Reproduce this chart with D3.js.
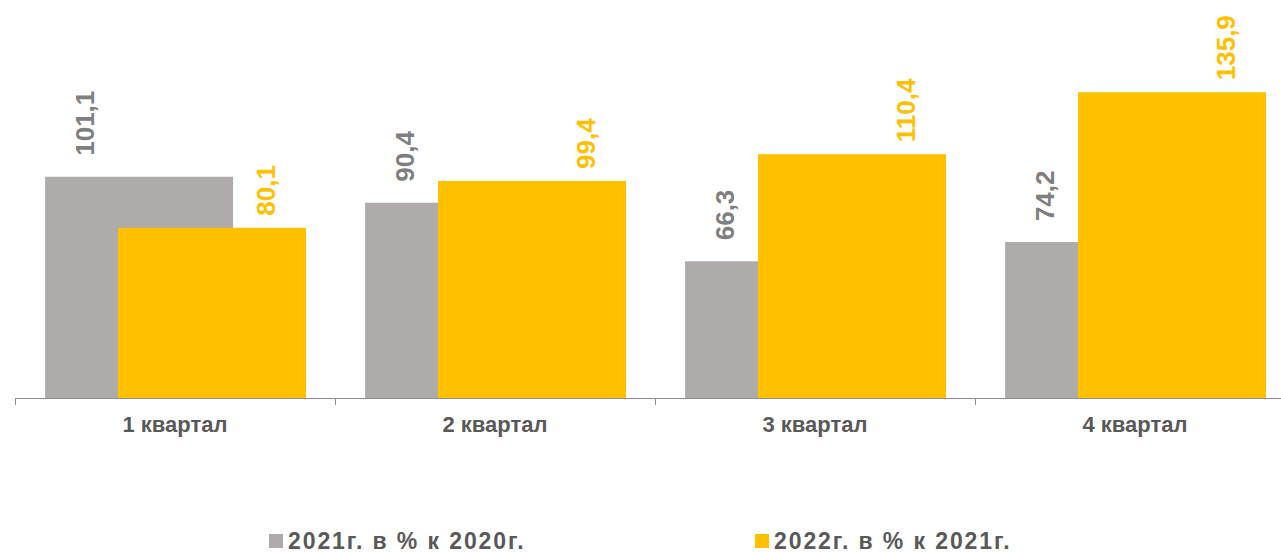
<!DOCTYPE html>
<html>
<head>
<meta charset="utf-8">
<script src="https://cdn.jsdelivr.net/npm/d3@7"></script>
<style>
  body { margin: 0; background: #fff; }
  text { font-family: Arial, "Liberation Sans", sans-serif; font-weight: bold; }
</style>
</head>
<body>
<svg id="chart" width="1281" height="552"></svg>
<script>
// data
const quarters = ['1 квартал', '2 квартал', '3 квартал', '4 квартал'];
const values2021 = [101.1, 90.4, 66.3, 74.2];
const values2022 = [80.1, 99.4, 110.4, 135.9];
const seriesNames = ['2021г. в % к 2020г.', '2022г. в % к 2021г.'];

const grayBar = '#afabab';
const yellow = '#ffc000';
const grayLabel = '#7f7f7f';
const textColor = '#595959';

const svg = d3.select('#chart');

const baseline = 398;

// scales
const x = d3.scaleBand()
    .domain(quarters)
    .range([15, 1295])
    .paddingInner(0)
    .paddingOuter(0);

const bw = x.bandwidth();
const barW = bw * 0.5875;

const y = d3.scaleLinear()
    .domain([10, 150])
    .range([baseline, 58]);

const series = [
  { name: seriesNames[0], values: values2021, color: grayBar, label: grayLabel, offset: bw * 0.094, labelX: 70, gap: 21 },
  { name: seriesNames[1], values: values2022, color: yellow, label: yellow, offset: bw * 0.322, labelX: 251, gap: 12 }
];

// bars
series.forEach(s => {
  svg.append('g')
    .selectAll('rect')
    .data(quarters.map((q, i) => ({ q, v: s.values[i] })))
    .join('rect')
      .attr('x', d => x(d.q) + s.offset)
      .attr('y', d => y(d.v))
      .attr('width', barW)
      .attr('height', d => baseline - y(d.v))
      .attr('fill', s.color);
});

// value labels (rotated)
series.forEach(s => {
  svg.append('g')
    .selectAll('text')
    .data(quarters.map((q, i) => ({ q, v: s.values[i] })))
    .join('text')
      .attr('transform', d => `translate(${x(d.q) + s.labelX}, ${y(d.v) - s.gap}) rotate(-90)`)
      .attr('dy', '0.36em')
      .attr('text-anchor', 'start')
      .attr('font-size', 26)
      .attr('fill', s.label)
      .text(d => d3.format('.1f')(d.v).replace('.', ','));
});

// axis
const xAxis = d3.axisBottom(x)
    .tickSize(0)
    .tickPadding(18);

const axisG = svg.append('g')
    .attr('transform', `translate(0, ${baseline})`)
    .call(xAxis);

axisG.select('.domain').remove();
axisG.selectAll('text')
    .attr('font-size', 22)
    .attr('fill', textColor)
    .attr('font-family', 'Arial, "Liberation Sans", sans-serif')
    .attr('font-weight', 'bold');

axisG.append('line')
    .attr('x1', 15)
    .attr('x2', 1281)
    .attr('y1', 0.5)
    .attr('y2', 0.5)
    .attr('stroke', '#8c8c8c');

axisG.selectAll('.sep')
  .data(quarters)
  .join('line')
    .attr('class', 'sep')
    .attr('x1', d => Math.round(x(d)) + 0.5)
    .attr('x2', d => Math.round(x(d)) + 0.5)
    .attr('y1', 0)
    .attr('y2', 7)
    .attr('stroke', '#8c8c8c');

// legend
const legendX = [269, 755];
const legend = svg.append('g')
  .selectAll('g')
  .data(series)
  .join('g')
    .attr('transform', (d, i) => `translate(${legendX[i]}, 534)`);

legend.append('rect')
    .attr('width', 14)
    .attr('height', 14)
    .attr('fill', d => d.color);

legend.append('text')
    .attr('x', 19)
    .attr('y', 14.5)
    .attr('font-size', 23)
    .attr('letter-spacing', 1.9)
    .attr('fill', textColor)
    .text(d => d.name);
</script>
</body>
</html>
